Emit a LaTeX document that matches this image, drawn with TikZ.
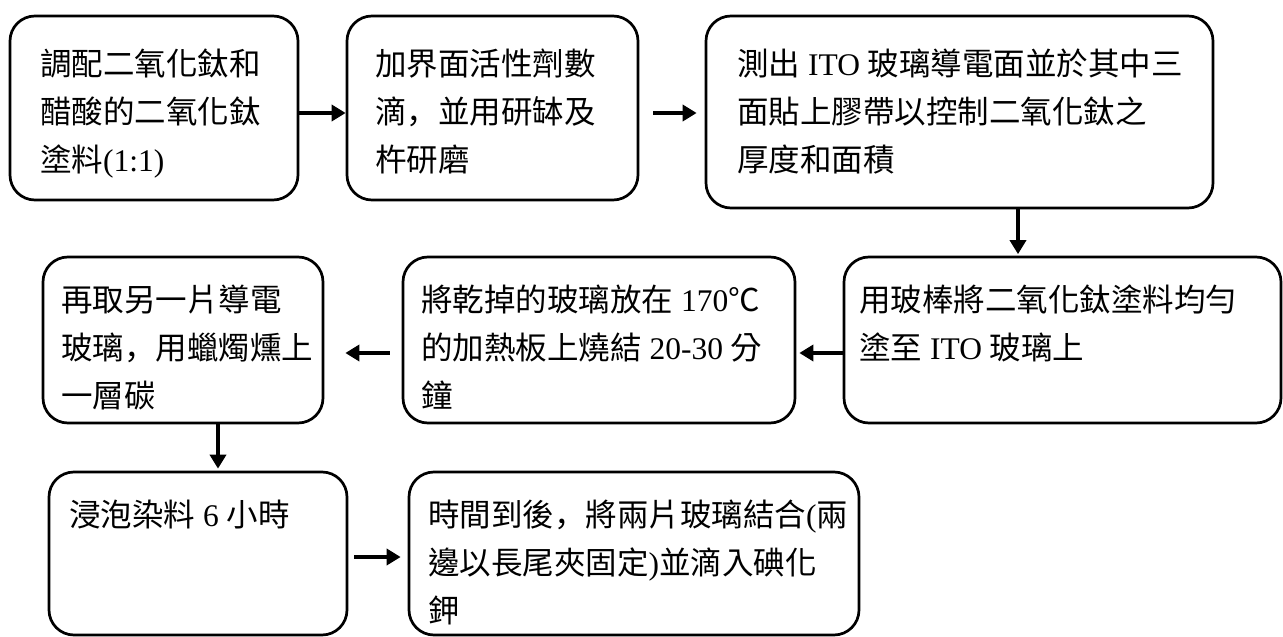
\documentclass[tikz,border=0pt]{standalone}
\usepackage{fontspec}
\setmainfont{Liberation Serif}
\newfontfamily\cjk{Noto Sans CJK TC}
\newfontfamily\cjksc{Noto Sans CJK SC}
\newcommand{\zh}[1]{{\cjk #1}}
\newcommand{\zhc}{{\cjksc ，}}
\newcommand{\fl}{\rule{0pt}{30pt}}
\usetikzlibrary{arrows.meta}
\begin{document}
\begin{tikzpicture}[x=1pt,y=-1pt,
  box/.style={draw, line width=2.7pt, rounded corners=25pt, inner sep=0pt},
  txt/.style={inner sep=0pt, align=left, anchor=north west, font=\fontsize{31.5}{48}\selectfont},
  arr/.style={line width=3.8pt, -{Triangle[length=14pt,width=16pt]}}]
\useasboundingbox (0,0) rectangle (1283,637);
% boxes
\node[box, minimum width=288pt, minimum height=184pt] (b1) at (154,108) {};
\node[box, minimum width=291pt, minimum height=184pt] (b2) at (492.5,108) {};
\node[box, minimum width=507pt, minimum height=192pt] (b3) at (959.5,112) {};
\node[box, minimum width=437pt, minimum height=166pt] (b4) at (1062.5,340) {};
\node[box, minimum width=392pt, minimum height=166pt] (b5) at (599,340) {};
\node[box, minimum width=280pt, minimum height=166pt] (b6) at (183,340) {};
\node[box, minimum width=298pt, minimum height=163pt] (b7) at (198,553.5) {};
\node[box, minimum width=450pt, minimum height=163pt] (b8) at (634,553.5) {};
% texts
\node[txt] (t1) at (40,45) {\fl\zh{調配二氧化鈦和}\\\zh{醋酸的二氧化鈦}\\\zh{塗料}(1:1)};
\node[txt] (t2) at (375,45) {\fl\zh{加界面活性劑數}\\\zh{滴}\zhc\zh{並用研缽及}\\\zh{杵研磨}};
\node[txt] (t3) at (737,45) {\fl\zh{測出} ITO \zh{玻璃導電面並於其中三}\\\zh{面貼上膠帶以控制二氧化鈦之}\\\zh{厚度和面積}};
\node[txt] (t4) at (859,281) {\fl\zh{用玻棒將二氧化鈦塗料均勻}\\\zh{塗至} ITO \zh{玻璃上}};
\node[txt] (t5) at (421,281) {\fl\zh{將乾掉的玻璃放在} 170\zh{℃}\\\zh{的加熱板上燒結} 20-30 \zh{分}\\\zh{鐘}};
\node[txt] (t6) at (61,281) {\fl\zh{再取另一片導電}\\\zh{玻璃}\zhc\zh{用蠟燭燻上}\\\zh{一層碳}};
\node[txt] (t7) at (69,496) {\fl\zh{浸泡染料} 6 \zh{小時}};
\node[txt] (t8) at (428,496) {\fl\zh{時間到後}\zhc\zh{將兩片玻璃結合}(\zh{兩}\\\zh{邊以長尾夾固定})\zh{並滴入碘化}\\\zh{鉀}};
% connectors
\draw[arr] ([yshift=-5pt]b1.east) -- ([yshift=-5pt]b2.west);
\draw[arr] ([xshift=14pt,yshift=-5pt]b2.east) -- ([xshift=-8pt,yshift=-1pt]b3.west);
\draw[arr] ([xshift=58.5pt]b3.south) -- ([xshift=-44.5pt,yshift=1.5pt]b4.north);
\draw[arr] ([yshift=-13pt]b4.west) -- ([xshift=3pt,yshift=-13pt]b5.east);
\draw[arr] ([xshift=-12pt,yshift=-13pt]b5.west) -- ([xshift=21pt,yshift=-13pt]b6.east);
\draw[arr] ([xshift=35pt]b6.south) -- ([xshift=20pt,yshift=2pt]b7.north);
\draw[arr] ([xshift=6pt,yshift=-3.5pt]b7.east) -- ([xshift=-7pt,yshift=-3.5pt]b8.west);
\end{tikzpicture}
\end{document}
